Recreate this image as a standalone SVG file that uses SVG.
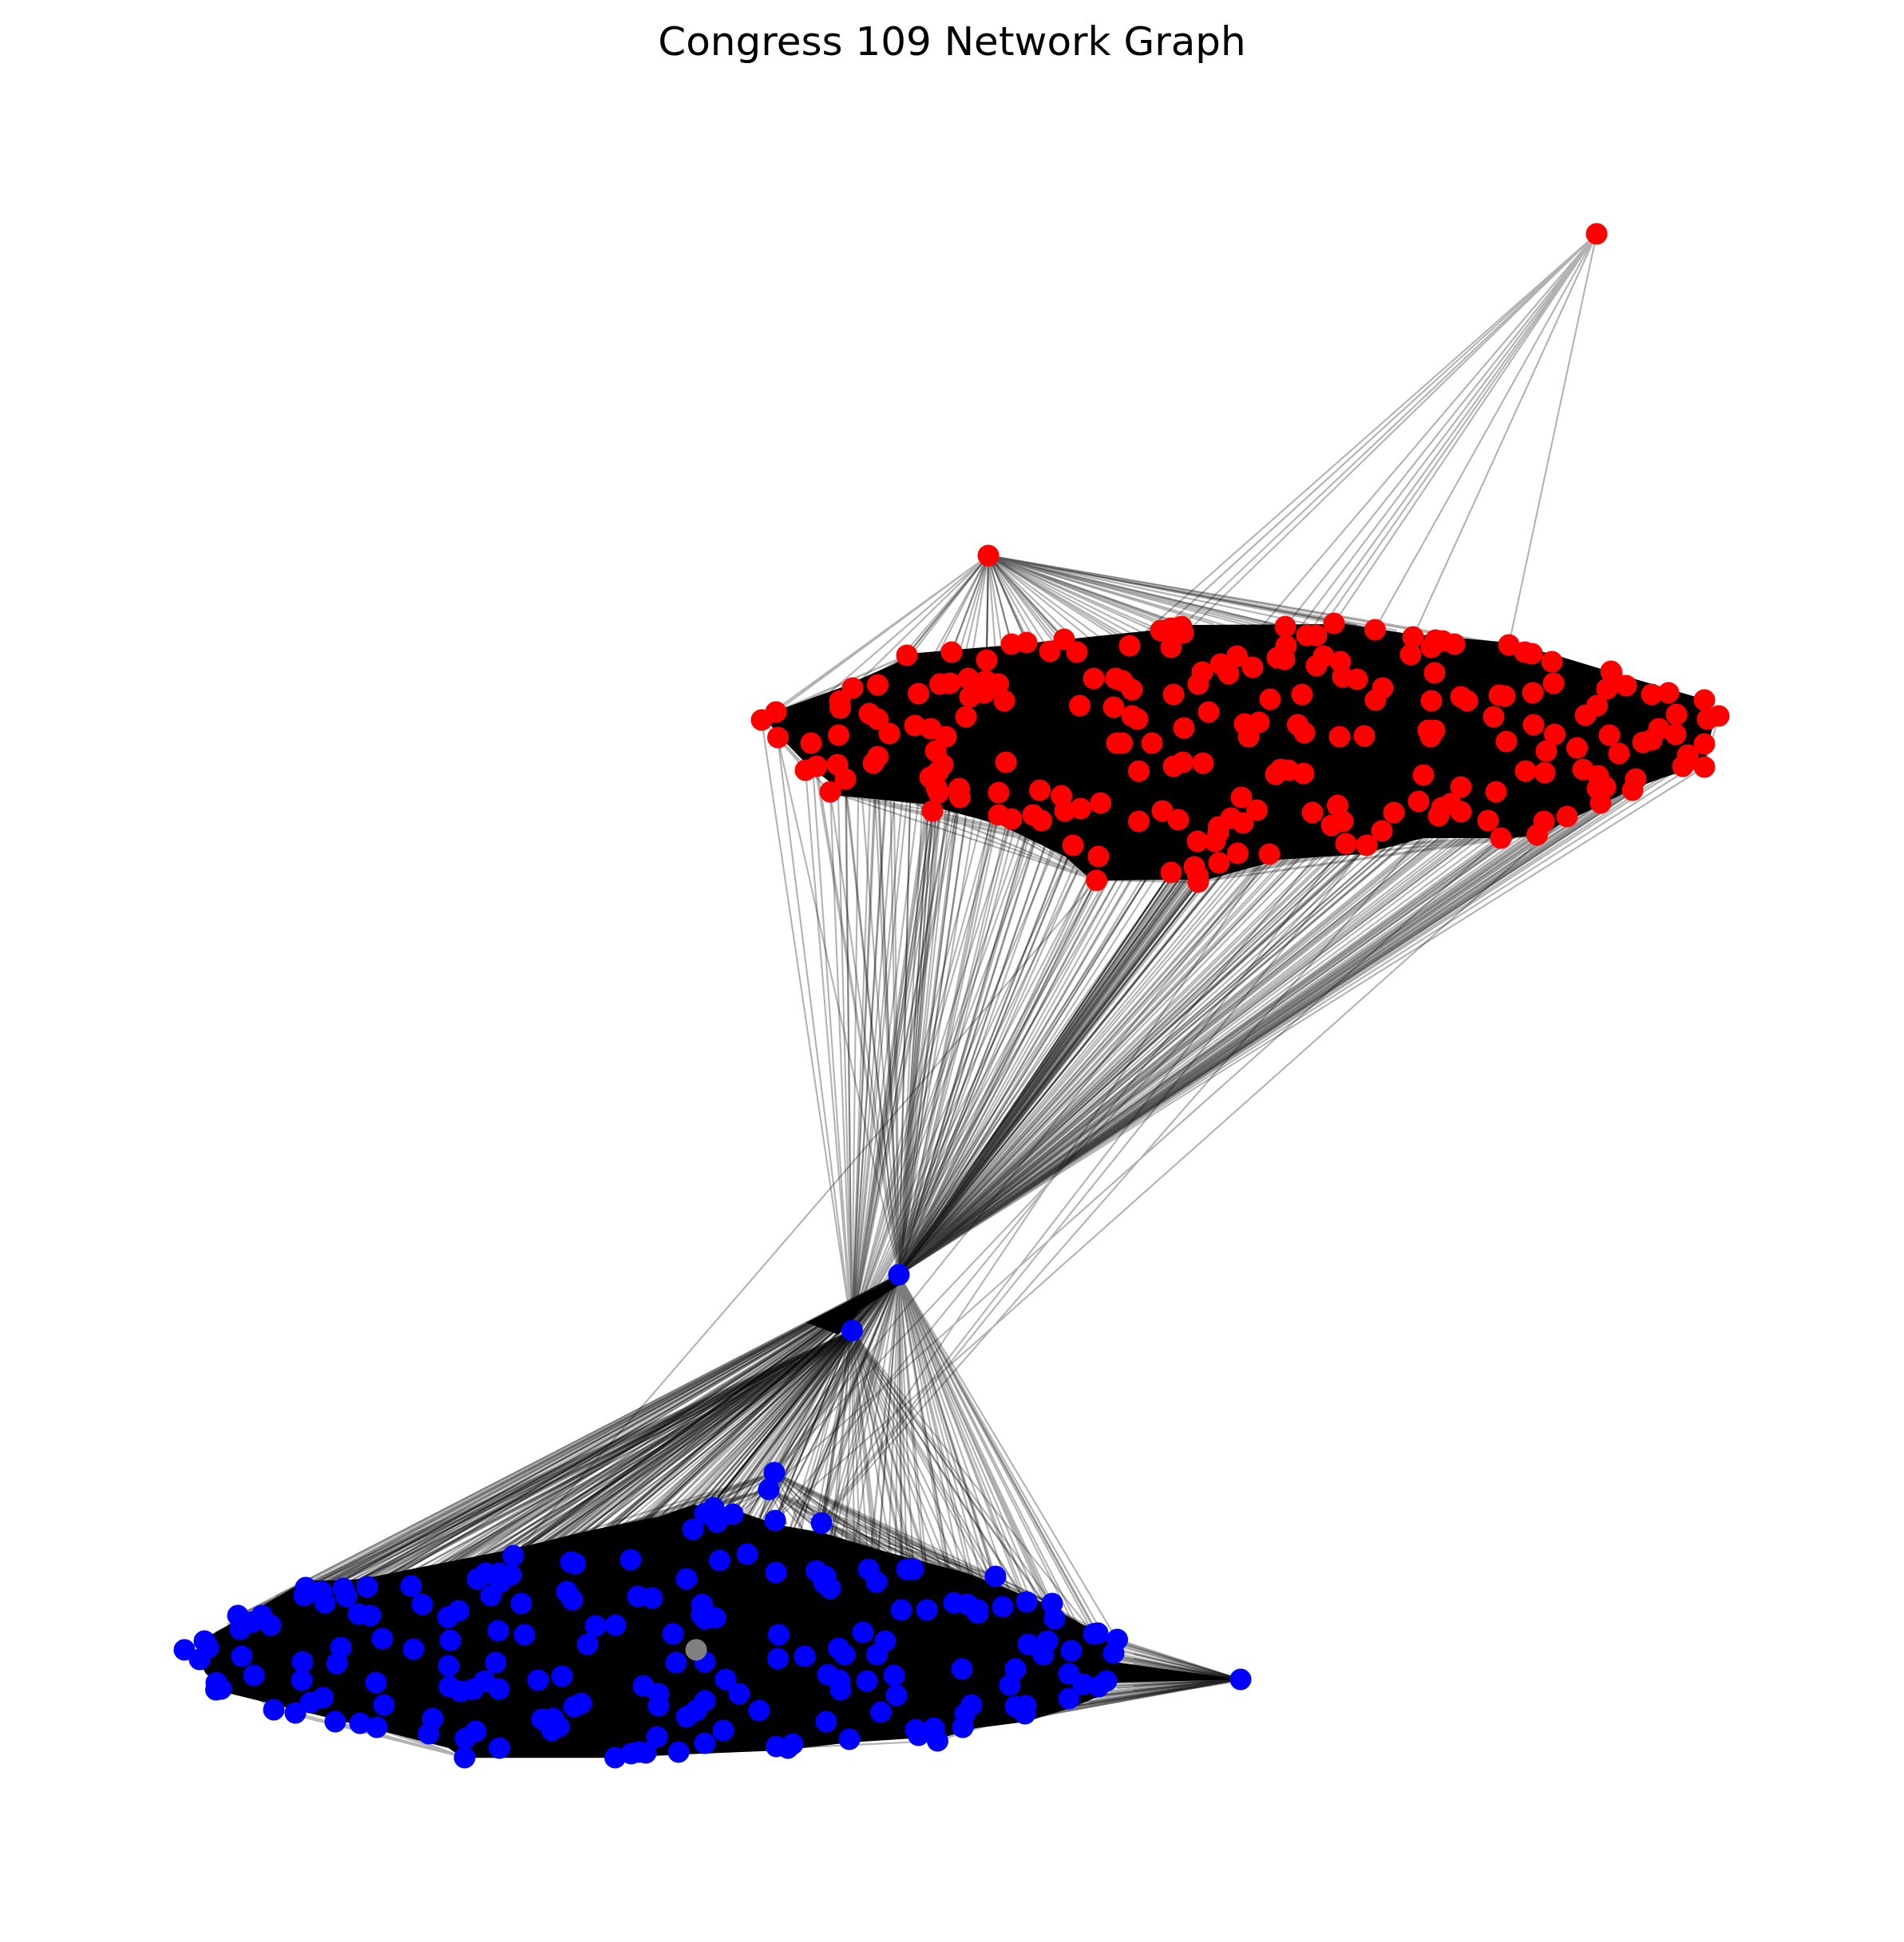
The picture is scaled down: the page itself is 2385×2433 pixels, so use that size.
<svg xmlns="http://www.w3.org/2000/svg" width="2385" height="2433" viewBox="0 0 2385 2433">
<style>
text{font-family:"DejaVu Sans",sans-serif;font-size:50px;fill:#000}
circle{r:13.5px}
.r circle{fill:#f00}
.b circle{fill:#00f}
.g circle{fill:#808080}
#edges path{fill:none;stroke:#000;stroke-width:2.1;stroke-opacity:.3}
#edges polygon{fill:#000}
</style>
<rect width="2385" height="2433" fill="#fff"/>
<text x="1192.5" y="69" text-anchor="middle">Congress 109 Network Graph</text>
<g id="edges">
<polygon points="982,887 1052,862 1124,830 1150,818 1267,808 1441,790 1492,783 1665,782 1686,782 1757,793 1890,805 1956,823 2022,843 2124,873 2145,910 2135,960 2104,967 2048,987 2002,1010 1925,1047 1885,1050 1783,1050 1706,1070 1604,1077 1512,1102 1387,1103 1362,1098 1334,1073 1252,1033 1155,1007 1053,997 1040,980 1010,957 984,930 962,905"/>
<polygon points="262,2050 383,1980 432,1980 459,1977 646,1940 736,1918 825,1900 869,1885 930,1895 973,1910 1030,1920 1106,1943 1208,1970 1305,2007 1356,2035 1402,2053 1400,2090 1385,2122 1341,2140 1285,2157 1223,2165 1188,2175 1065,2183 979,2193 851,2198 771,2202 579,2202 562,2190 472,2167 289,2122 258,2097 249,2082"/>
<polygon points="1124,1600 1010,1657 1050,1672 1079,1640 1126,1610"/>
<polygon points="1554,2104 1395,2082 1395,2108"/>
<path d="M2000 293L1415 809M2000 293L1480 785M2000 293L1454 790M2000 293L1610 785M2000 293L1637 796M2000 293L1671 781M2000 293L1722 789M2000 293L1649 796M2000 293L1770 798M2000 293L1890 808M2000 293L1549 822M2000 293L1600 824M2000 293L1467 811"/>
<path d="M1238 696L954 902M1238 696L972 892M1238 696L974 924M1238 696L1068 862M1238 696L1099 858M1238 696L1136 821M1238 696L1192 817M1238 696L1150 869M1238 696L1177 857M1238 696L1213 850M1238 696L1236 827M1238 696L1250 857M1238 696L1267 807M1238 696L1286 805M1238 696L1315 816M1238 696L1333 801M1238 696L1349 817M1238 696L1370 850"/>
<path d="M1238 696L1190 856M1238 696L1235 853M1238 696L1267 807M1238 696L1286 805M1238 696L1333 801M1238 696L1415 809M1238 696L1454 790M1238 696L1467 787M1238 696L1480 785M1238 696L1482 793M1238 696L1610 785M1238 696L1637 796M1238 696L1649 796M1238 696L1671 781M1238 696L1722 789M1238 696L1770 798M1238 696L1600 824M1238 696L1506 842"/>
<path d="M1238 696L1136 821M1238 696L1192 817M1238 696L1236 827M1238 696L1300 810M1238 696L1320 805M1238 696L1345 800M1238 696L1380 800M1238 696L1400 795M1238 696L1430 792M1238 696L1470 785M1238 696L1500 790M1238 696L1540 785M1238 696L1580 785M1238 696L1798 802M1238 696L1822 807M1238 696L1890 808"/>
<path d="M1238 696L1140 822M1238 696L1170 820M1238 696L1210 815M1238 696L1255 810M1238 696L1290 808M1238 696L1325 805M1238 696L1365 800M1238 696L1410 797M1238 696L1445 790M1238 696L1520 782M1238 696L1560 783M1238 696L1600 783M1238 696L1640 782M1238 696L1700 783M1238 696L1750 790M1238 696L1860 805"/>
<g>
<path d="M1126 1597L231 2067M1126 1597L256 2056M1126 1597L298 2024M1126 1597L328 2024M1126 1597L339 2036M1126 1597L383 1989M1126 1597L403 1994M1126 1597L430 1990M1126 1597L460 1988M1126 1597L515 1987M1126 1597L529 2010M1126 1597L561 2026M1126 1597L598 1978M1126 1597L625 1971M1126 1597L643 1949M1126 1597L715 1957M1126 1597L790 1954M1126 1597L860 1978M1126 1597L868 1916M1126 1597L883 1896"/>
<path d="M1126 1597L250 2079M1126 1597L271 2108M1126 1597L303 2075M1126 1597L343 2142M1126 1597L381 1999M1126 1597L407 2008M1126 1597L434 2000M1126 1597L449 2022M1126 1597L479 2053M1126 1597L574 2018M1126 1597L608 1971M1126 1597L640 1973M1126 1597L653 2009M1126 1597L710 1994M1126 1597L799 2000M1126 1597L746 2037M1126 1597L843 2047M1126 1597L894 1889M1126 1597L898 1907M1126 1597L936 1947"/>
<path d="M1126 1597L301 2041M1126 1597L316 2032M1126 1597L318 2099M1126 1597L370 2146M1126 1597L389 2133M1126 1597L420 2157M1126 1597L427 2064M1126 1597L464 2024M1126 1597L518 2066M1126 1597L564 2055M1126 1597L624 2043M1126 1597L657 2048M1126 1597L736 2060M1126 1597L771 2036M1126 1597L817 2002M1126 1597L879 2010M1126 1597L901 1955M1126 1597L918 1897M1126 1597L971 1905M1126 1597L972 1970"/>
<path d="M1126 1597L379 2082M1126 1597L404 2127M1126 1597L451 2159M1126 1597L471 2108M1126 1597L481 2136M1126 1597L537 2172M1126 1597L562 2087M1126 1597L582 2202M1126 1597L621 2083M1126 1597L674 2105M1126 1597L704 2100M1126 1597L728 2134M1126 1597L791 2197M1126 1597L847 2083M1126 1597L883 2082M1126 1597L883 2184M1126 1597L909 2104M1126 1597L951 2143M1126 1597L975 2048M1126 1597L1008 2075"/>
<path d="M1126 1597L1022 1968M1126 1597L1029 1908M1126 1597L1040 1990M1126 1597L1081 2045M1126 1597L1088 1966M1126 1597L1098 1982M1126 1597L1109 2056M1126 1597L1120 2099M1126 1597L1129 2017M1126 1597L1136 1966M1126 1597L1144 1966M1126 1597L1161 2017M1126 1597L1195 2008M1126 1597L1205 2091M1126 1597L1212 2010M1126 1597L1225 2021M1126 1597L1247 1975M1126 1597L1256 2013M1126 1597L1265 2111M1126 1597L1272 2091M1126 1597L1286 2007M1126 1597L1288 2060M1126 1597L1312 2056M1126 1597L1318 2009M1126 1597L1321 2028M1126 1597L1339 2097M1126 1597L1342 2068M1126 1597L1370 2047M1126 1597L1375 2046M1126 1597L1395 2071M1126 1597L1399 2054M1126 1597L1386 2106M1126 1597L1285 2137"/>
<path d="M1067 1667L231 2067M1067 1667L256 2056M1067 1667L298 2024M1067 1667L328 2024M1067 1667L383 1989M1067 1667L403 1994M1067 1667L430 1990M1067 1667L460 1988M1067 1667L515 1987M1067 1667L529 2010M1067 1667L598 1978M1067 1667L625 1971M1067 1667L643 1949M1067 1667L715 1957M1067 1667L790 1954M1067 1667L860 1978M1067 1667L868 1916M1067 1667L883 1896M1067 1667L894 1889"/>
<path d="M1067 1667L250 2079M1067 1667L301 2041M1067 1667L316 2032M1067 1667L339 2036M1067 1667L381 1999M1067 1667L407 2008M1067 1667L434 2000M1067 1667L449 2022M1067 1667L464 2024M1067 1667L561 2026M1067 1667L574 2018M1067 1667L608 1971M1067 1667L640 1973M1067 1667L653 2009M1067 1667L710 1994M1067 1667L799 2000M1067 1667L817 2002M1067 1667L898 1907M1067 1667L918 1897M1067 1667L936 1947"/>
<path d="M1067 1667L303 2075M1067 1667L343 2142M1067 1667L389 2133M1067 1667L427 2064M1067 1667L479 2053M1067 1667L518 2066M1067 1667L564 2055M1067 1667L624 2043M1067 1667L657 2048M1067 1667L736 2060M1067 1667L746 2037M1067 1667L771 2036M1067 1667L843 2047M1067 1667L879 2010M1067 1667L901 1955M1067 1667L971 1905M1067 1667L972 1970M1067 1667L1029 1908M1067 1667L1022 1968M1067 1667L1040 1990"/>
<path d="M1067 1667L970 1845M1067 1667L963 1866M1067 1667L971 1905M1067 1667L1029 1908M1067 1667L1088 1966M1067 1667L1098 1982M1067 1667L1136 1966M1067 1667L1144 1966M1067 1667L1247 1975M1067 1667L1129 2017M1067 1667L1161 2017M1067 1667L1195 2008M1067 1667L1225 2021M1067 1667L1256 2013M1067 1667L1286 2007M1067 1667L1318 2009M1067 1667L1321 2028M1067 1667L1370 2047M1067 1667L1109 2056M1067 1667L1081 2045M1067 1667L1205 2091M1067 1667L1008 2075"/>
<path d="M1126 1597L970 1845M1126 1597L963 1866M1067 1667L926 1895M1067 1667L1000 1905M1067 1667L960 1900M1067 1667L850 1915M1067 1667L820 1925M1067 1667L780 1935M1067 1667L700 1950M1067 1667L670 1960M1067 1667L570 1968M1067 1667L540 1975M1126 1597L1000 1905M1126 1597L950 1900M1126 1597L850 1915M1126 1597L780 1935M1126 1597L700 1950M1126 1597L670 1960"/>
<path d="M1126 1597L1067 1667M1126 1597L383 1989M1126 1597L403 1994M1126 1597L430 1990M1126 1597L460 1988M1126 1597L515 1987M1126 1597L598 1978M1126 1597L643 1949M1126 1597L715 1957"/>
<path d="M1126 1597L270 2045M1126 1597L290 2030M1126 1597L310 2020M1126 1597L345 2000M1126 1597L365 1992M1126 1597L395 1985M1126 1597L415 1985M1126 1597L445 1983M1126 1597L475 1980M1126 1597L495 1975M1126 1597L535 1970M1126 1597L555 1965M1126 1597L580 1960M1126 1597L600 1955M1126 1597L620 1950M1126 1597L660 1938M1126 1597L680 1933M1126 1597L730 1920M1126 1597L760 1913M1126 1597L800 1905M1126 1597L830 1897"/>
<path d="M1067 1667L265 2048M1067 1667L285 2035M1067 1667L305 2025M1067 1667L350 2003M1067 1667L370 1995M1067 1667L400 1988M1067 1667L420 1985M1067 1667L450 1982M1067 1667L480 1980M1067 1667L500 1978M1067 1667L530 1972M1067 1667L560 1965M1067 1667L585 1960M1067 1667L610 1952M1067 1667L630 1948M1067 1667L665 1938M1067 1667L690 1930M1067 1667L725 1922M1067 1667L770 1912M1067 1667L810 1903M1067 1667L840 1895"/>
<path d="M1067 1667L300 2050M1067 1667L330 2040M1067 1667L360 2030M1067 1667L400 2020M1067 1667L440 2010M1067 1667L480 2000M1067 1667L520 2000M1067 1667L560 1990M1067 1667L600 1990M1067 1667L640 1985M1067 1667L680 1975M1067 1667L720 1970M1067 1667L760 1965M1067 1667L800 1960M1067 1667L840 1950M1067 1667L880 1940M1067 1667L920 1930M1067 1667L960 1930M1067 1667L1000 1930M1067 1667L1040 1945M1067 1667L1070 1950"/>
<path d="M1126 1597L1100 1945M1126 1597L1130 1950M1126 1597L1160 1960M1126 1597L1190 1970M1126 1597L1220 1980M1126 1597L1250 1990M1126 1597L1280 2000M1126 1597L1310 2010M1126 1597L1340 2025M1126 1597L1370 2040M1126 1597L850 1900M1126 1597L900 1900M1126 1597L950 1905M1126 1597L1000 1915M1126 1597L1040 1925M1126 1597L1070 1935"/>
<path d="M1067 1667L1100 1945M1067 1667L1130 1950M1067 1667L1160 1960M1067 1667L1190 1970M1067 1667L1220 1980M1067 1667L1250 1990M1067 1667L1280 2000M1067 1667L1310 2010M1067 1667L1020 1920M1067 1667L1060 1935"/>
</g>
<g>
<path d="M1126 1597L974 924M1126 1597L1016 931M1126 1597L1023 960M1126 1597L1040 992M1126 1597L1059 976M1126 1597L1094 956M1126 1597L1099 948M1126 1597L1114 919M1126 1597L1165 974M1126 1597L1168 1016M1126 1597L1175 993M1126 1597L1181 958M1126 1597L1201 988M1126 1597L1202 999M1126 1597L1251 993M1126 1597L1251 1021M1126 1597L1267 1026M1126 1597L1294 1021M1126 1597L1305 1028M1126 1597L1260 955"/>
<path d="M1126 1597L1302 990M1126 1597L1330 997M1126 1597L1334 1016M1126 1597L1344 1059M1126 1597L1354 1013M1126 1597L1376 1073M1126 1597L1373 1103M1126 1597L1379 1006M1126 1597L1426 1029M1126 1597L1426 966M1126 1597L1456 1016M1126 1597L1476 1027M1126 1597L1467 1093M1126 1597L1496 1086M1126 1597L1500 1054M1126 1597L1501 1105M1126 1597L1522 1054M1126 1597L1527 1081M1126 1597L1550 1069M1126 1597L1590 1070"/>
<path d="M1126 1597L1598 970M1126 1597L1633 969M1126 1597L1644 1018M1126 1597L1668 1034M1126 1597L1676 1009M1126 1597L1686 1056M1126 1597L1712 1059M1126 1597L1731 1041M1126 1597L1746 1018M1126 1597L1777 1004M1126 1597L1783 971M1126 1597L1802 1022M1126 1597L1817 1007M1126 1597L1830 1017M1126 1597L1830 986M1126 1597L1864 1028M1126 1597L1874 992M1126 1597L1880 1050M1126 1597L1887 929M1126 1597L1911 966"/>
<path d="M1126 1597L1925 1046M1126 1597L1934 1029M1126 1597L1935 968M1126 1597L1937 941M1126 1597L1963 1023M1126 1597L1975 937M1126 1597L1983 964M1126 1597L2001 988M1126 1597L2002 972M1126 1597L2005 1006M1126 1597L2011 986M1126 1597L2016 921M1126 1597L2028 944M1126 1597L2045 990M1126 1597L2049 976M1126 1597L2058 930M1126 1597L2069 927M1126 1597L2078 913M1126 1597L2099 920M1126 1597L2108 960M1126 1597L2114 946M1126 1597L2135 932M1126 1597L2135 961"/>
<path d="M1126 1597L1390 1100M1126 1597L1420 1098M1126 1597L1450 1096M1126 1597L1480 1098M1126 1597L1520 1095M1126 1597L1550 1085M1126 1597L1580 1078M1126 1597L1610 1075M1126 1597L1640 1072M1126 1597L1670 1068M1126 1597L1700 1062M1126 1597L1740 1048M1126 1597L1770 1048M1126 1597L1800 1046M1126 1597L1830 1045M1126 1597L1860 1046M1126 1597L1900 1047M1126 1597L1950 1035M1126 1597L1990 1012M1126 1597L2030 995M1126 1597L2070 975"/>
<path d="M1126 1597L1420 1095M1126 1597L1440 1094M1126 1597L1535 1090M1126 1597L1560 1082M1126 1597L1595 1075M1126 1597L1625 1073M1126 1597L1655 1070M1126 1597L1685 1065M1126 1597L1715 1058M1126 1597L1750 1050M1126 1597L1785 1048M1126 1597L1815 1046M1126 1597L1845 1046M1126 1597L1880 1047M1126 1597L1915 1046M1126 1597L1935 1040M1126 1597L1970 1024M1126 1597L2010 1006M1126 1597L2050 985M1126 1597L2090 968M1126 1597L2120 960"/>
<path d="M1126 1597L1540 1085M1126 1597L1570 1078M1126 1597L1600 1075M1126 1597L1630 1072M1126 1597L1660 1070M1126 1597L1690 1065M1126 1597L1720 1055M1126 1597L1760 1048M1126 1597L1790 1047M1126 1597L1820 1045M1126 1597L1850 1046M1126 1597L1890 1047M1126 1597L1920 1047M1126 1597L1960 1028M1126 1597L2000 1010M1126 1597L2040 990M1126 1597L2080 970M1126 1597L1440 1095M1126 1597L1400 1100M1126 1597L1340 1070M1126 1597L1300 1040M1126 1597L1260 1035M1126 1597L1220 1025M1126 1597L1185 1012M1126 1597L1140 1005"/>
<path d="M1126 1597L1060 998M1126 1597L1080 1000M1126 1597L1100 1002M1126 1597L1120 1005M1126 1597L1140 1006M1126 1597L1190 1012M1126 1597L1210 1020M1126 1597L1240 1030M1126 1597L1270 1040M1126 1597L1290 1045M1126 1597L1310 1058M1126 1597L1330 1072M1126 1597L1350 1090"/>
<path d="M1126 1597L1465 1095M1126 1597L1470 1095M1126 1597L1475 1095M1126 1597L1480 1095M1126 1597L1485 1095M1126 1597L1490 1095M1126 1597L1495 1095M1126 1597L1500 1095M1126 1597L1505 1095M1126 1597L1510 1095M1126 1597L1515 1095"/>
<path d="M1126 1597L1467 1093M1126 1597L1472 1093M1126 1597L1478 1093M1126 1597L1483 1093M1126 1597L1488 1093M1126 1597L1494 1093M1126 1597L1498 1093M1126 1597L1503 1093M1126 1597L1508 1093"/>
<path d="M1126 1597L1467 1093M1126 1597L1474 1093M1126 1597L1481 1093M1126 1597L1488 1093M1126 1597L1496 1086M1126 1597L1501 1105M1126 1597L1527 1081"/>
<path d="M1126 1597L1168 1016M1126 1597L1163 1016M1126 1597L1173 1016M1126 1597L1178 1016M1126 1597L1155 1010M1126 1597L1373 1103M1126 1597L1368 1100M1126 1597L1378 1100M1126 1597L1200 1020M1126 1597L1210 1025"/>
<path d="M1067 1667L954 902M1067 1667L974 924M1067 1667L1009 965M1067 1667L1016 931M1067 1667L1040 992M1067 1667L1049 958M1067 1667L1059 976M1067 1667L1099 948M1067 1667L1114 919M1067 1667L1146 909M1067 1667L1165 974M1067 1667L1168 1016M1067 1667L1172 941M1067 1667L1175 993M1067 1667L1201 988M1067 1667L1202 999M1067 1667L1210 898M1067 1667L1251 993M1067 1667L1251 1021M1067 1667L1267 1026M1067 1667L1294 1021M1067 1667L1304 1028M1067 1667L1344 1059M1067 1667L1373 1103M1067 1667L1376 1073M1067 1667L1426 1029M1067 1667L1467 1093M1067 1667L1501 1105M1067 1667L1527 1081"/>
<path d="M1067 1667L1163 1016M1067 1667L1168 1016M1067 1667L1173 1016M1067 1667L1110 1000M1067 1667L1090 990M1067 1667L1180 1005M1067 1667L1130 1003"/>
<path d="M1067 1667L1060 998M1067 1667L1075 1000M1067 1667L1095 1002M1067 1667L1120 1004M1067 1667L1150 1007M1067 1667L1190 1012M1067 1667L1230 1025M1067 1667L1280 1040M1067 1667L1320 1065M1067 1667L1350 1090M1067 1667L1400 1100M1067 1667L1440 1095M1067 1667L1480 1098"/>
<path d="M643 1949L1373 1103M1029 1908L1590 1070M970 1845L1731 1041M963 1866L1880 1050M971 1905L1963 1023M1029 1908L1712 1059M970 1845L1590 1070M1029 1908L1780 1050M971 1905L1650 1070M1029 1908L1686 1056"/>
</g>
<g>
<path d="M1554 2104L1375 2046M1554 2104L1399 2054M1554 2104L1395 2071M1554 2104L1386 2106M1554 2104L1376 2113M1554 2104L1357 2110M1554 2104L1342 2068M1554 2104L1339 2097M1554 2104L1339 2128M1554 2104L1312 2056M1554 2104L1307 2073M1554 2104L1288 2060M1554 2104L1285 2137M1554 2104L1284 2147M1554 2104L1272 2138"/>
<path d="M1554 2104L1375 2050M1554 2104L1399 2062M1554 2104L1395 2080M1554 2104L1390 2095M1554 2104L1386 2115M1554 2104L1376 2125M1554 2104L1357 2125M1554 2104L1342 2135M1554 2104L1330 2143M1554 2104L1300 2150M1554 2104L1200 2100M1554 2104L1100 2100M1554 2104L1000 2100"/>
<path d="M1554 2104L1399 2075M1554 2104L1399 2085M1554 2104L1399 2095M1554 2104L1399 2105M1554 2104L1399 2115M1554 2104L1399 2060M1554 2104L1390 2120M1554 2104L1365 2133M1554 2104L1345 2138"/>
<path d="M1554 2104L1420 2085M1554 2104L1420 2092M1554 2104L1420 2098M1554 2104L1420 2105M1554 2104L1420 2112M1554 2104L1420 2078M1554 2104L1420 2118M1554 2104L1420 2072"/>
<path d="M1554 2104L1400 2058M1554 2104L1400 2068M1554 2104L1400 2078M1554 2104L1400 2088M1554 2104L1400 2098M1554 2104L1400 2108M1554 2104L1392 2118M1554 2104L1372 2128M1554 2104L1350 2136M1554 2104L1318 2146"/>
<path d="M1554 2104L1388 2052M1554 2104L1392 2064M1554 2104L1392 2074M1554 2104L1392 2090M1554 2104L1392 2100M1554 2104L1392 2112M1554 2104L1380 2124M1554 2104L1360 2132M1554 2104L1335 2141M1554 2104L1305 2150"/>
<path d="M970 1845L1030 1920M970 1845L1088 1966M970 1845L1136 1966M970 1845L1144 1966M970 1845L1195 2008M970 1845L1247 1975M970 1845L1286 2007M970 1845L1318 2009M970 1845L1370 2047M970 1845L1399 2054M970 1845L1100 1945M970 1845L1160 1960M970 1845L1210 1975M970 1845L1280 2000M970 1845L1340 2030M970 1845L900 1895M970 1845L860 1900M970 1845L800 1912M970 1845L740 1925M970 1845L920 1900M970 1845L950 1910M970 1845L985 1910M970 1845L1005 1915"/>
<path d="M963 1866L1030 1920M963 1866L1088 1966M963 1866L1136 1966M963 1866L1144 1966M963 1866L1195 2008M963 1866L1247 1975M963 1866L1286 2007M963 1866L1100 1945M963 1866L1160 1960M963 1866L1210 1975M963 1866L1260 1992M963 1866L1318 2009M963 1866L900 1895M963 1866L860 1900M963 1866L800 1912M963 1866L740 1925M963 1866L920 1900M963 1866L950 1910M963 1866L985 1910M963 1866L1005 1915M963 1866L1065 1940M963 1866L1120 1960"/>
<path d="M970 1845L880 1890M970 1845L840 1905M970 1845L820 1905M970 1845L780 1915M970 1845L760 1920M970 1845L720 1930M970 1845L700 1928M970 1845L1060 1935M970 1845L1120 1950M970 1845L1180 1965M970 1845L1230 1985M970 1845L1260 1995M970 1845L1300 2010"/>
<path d="M963 1866L880 1890M963 1866L840 1905M963 1866L820 1905M963 1866L780 1915M963 1866L760 1920M963 1866L720 1930M963 1866L700 1928M963 1866L1050 1935M963 1866L1110 1950M963 1866L1170 1965"/>
<path d="M1029 1908L1088 1966M1029 1908L1136 1966M1029 1908L1195 2008M1029 1908L1247 1975M1029 1908L1286 2007M1029 1908L1160 1955M1029 1908L1210 1975M1029 1908L1318 2009M1029 1908L1100 1945M1247 1975L1195 2008M1247 1975L1286 2007M1247 1975L1225 2010M1247 1975L1256 2013M1247 1975L1318 2009M1318 2009L1370 2047M1286 2007L1370 2047M1225 2017L1370 2047"/>
<path d="M582 2202L343 2142M582 2202L370 2146M582 2202L420 2157M582 2202L451 2159M582 2202L472 2164M582 2202L537 2172M582 2202L542 2153M582 2202L583 2178M582 2202L596 2169M582 2202L625 2190M582 2202L771 2202M582 2202L790 2197M582 2202L850 2195M582 2202L1064 2179M582 2202L493 2170M582 2202L510 2175M770 2202L650 2195M770 2202L700 2190M770 2202L1000 2190M850 2195L1147 2167M987 2190L1174 2181M987 2190L1206 2164M1174 2181L1285 2147M1206 2164L1339 2128M1284 2147L1540 2108M231 2067L343 2142M250 2079L343 2142M250 2079L472 2164M271 2108L537 2172M343 2142L582 2202"/>
<path d="M1373 1103L1040 992M1373 1103L1168 1016M1373 1103L1201 999M1373 1103L1251 1021M1373 1103L1267 1026M1373 1103L1294 1021M1373 1103L1304 1028M1373 1103L1334 1016M1373 1103L1344 1059M1373 1103L1100 1000M1373 1103L1140 1005M1373 1103L1210 1015M1373 1103L1230 1025M1373 1103L1320 1050M1373 1103L1501 1105M1040 992L1168 1016M1040 992L1251 1021M1040 992L1304 1028M1040 992L1344 1059M1040 992L1467 1093M1040 992L1501 1105M1168 1016L1251 1021M1168 1016L1344 1059M1168 1016L1467 1093M1168 1016L1501 1105M1168 1016L1373 1103M1168 1016L1376 1073"/>
<path d="M1501 1105L1590 1070M1501 1105L1712 1059M1501 1105L1731 1041M1501 1105L1880 1050M1501 1105L1925 1046M1501 1105L2005 1006M1501 1105L2045 990M1501 1105L2108 960M1501 1105L2135 961M1467 1093L1590 1070M1467 1093L1712 1059M1467 1093L1880 1050M1467 1093L1925 1046M1467 1093L2005 1006M1467 1093L2108 960M1373 1103L1590 1070M1373 1103L1712 1059M1373 1103L1880 1050M1373 1103L1925 1046M1712 1059L1880 1050M1712 1059L1925 1046M1712 1059L2045 990M1712 1059L2108 960M1590 1070L1880 1050M1590 1070L2005 1006"/>
<path d="M972 892L1136 821M954 902L1136 821M972 892L1068 862M972 892L1099 858M974 924L1040 992M974 924L1009 965M974 924L1059 976M974 924L1168 1016M954 902L1040 992M1136 821L1052 878M1136 821L1068 862M1136 821L1099 858M1136 821L1052 887M1136 821L1089 894M1136 821L1050 921M2135 877L2135 961M2153 897L2135 932M2153 897L2135 961M2153 897L2108 960M2139 901L2108 960M2139 901L2114 946M2153 897L2099 920"/>
</g>
</g>
<g id="nodes">
<g class="r">
<g id="r1"><circle cx="2000" cy="293"/></g><g id="r2"><circle cx="1238" cy="696"/></g>
<g id="r3"><circle cx="954" cy="902"/></g><g id="r4"><circle cx="972" cy="892"/></g><g id="r5"><circle cx="974.5" cy="924"/></g><g id="r6"><circle cx="1016" cy="931"/></g><g id="r7"><circle cx="1009" cy="965"/></g><g id="r8"><circle cx="1023" cy="960"/></g><g id="r9"><circle cx="1049" cy="958"/></g><g id="r10"><circle cx="1059" cy="976"/></g>
<g id="r11"><circle cx="1040" cy="992"/></g><g id="r12"><circle cx="1050.5" cy="921"/></g><g id="r13"><circle cx="1052.5" cy="887"/></g><g id="r14"><circle cx="1052" cy="878"/></g><g id="r15"><circle cx="1068" cy="862"/></g><g id="r16"><circle cx="1099.5" cy="858"/></g><g id="r17"><circle cx="1089" cy="894"/></g><g id="r18"><circle cx="1099.5" cy="901"/></g><g id="r19"><circle cx="1114" cy="919"/></g><g id="r20"><circle cx="1099.5" cy="948"/></g>
<g id="r21"><circle cx="1094" cy="956"/></g><g id="r22"><circle cx="1136" cy="821"/></g><g id="r23"><circle cx="1192" cy="817"/></g><g id="r24"><circle cx="1236" cy="827"/></g><g id="r25"><circle cx="1267" cy="807"/></g><g id="r26"><circle cx="1286" cy="805"/></g><g id="r27"><circle cx="1315" cy="816"/></g><g id="r28"><circle cx="1333" cy="801"/></g><g id="r29"><circle cx="1349" cy="817"/></g><g id="r30"><circle cx="1415" cy="809"/></g>
<g id="r31"><circle cx="1454" cy="790"/></g><g id="r32"><circle cx="1467" cy="787"/></g><g id="r33"><circle cx="1480" cy="785"/></g><g id="r34"><circle cx="1482" cy="793"/></g><g id="r35"><circle cx="1467" cy="811"/></g><g id="r36"><circle cx="1610" cy="785"/></g><g id="r37"><circle cx="1637" cy="796"/></g><g id="r38"><circle cx="1649" cy="796"/></g><g id="r39"><circle cx="1671" cy="781"/></g><g id="r40"><circle cx="1611" cy="809"/></g>
<g id="r41"><circle cx="1600" cy="824"/></g><g id="r42"><circle cx="1609" cy="826"/></g><g id="r43"><circle cx="1649" cy="834"/></g><g id="r44"><circle cx="1658" cy="822"/></g><g id="r45"><circle cx="1679" cy="829"/></g><g id="r46"><circle cx="1682" cy="848"/></g><g id="r47"><circle cx="1700" cy="851"/></g><g id="r48"><circle cx="1150.5" cy="869"/></g><g id="r49"><circle cx="1177.5" cy="857"/></g><g id="r50"><circle cx="1190" cy="856"/></g>
<g id="r51"><circle cx="1213" cy="850"/></g><g id="r52"><circle cx="1235" cy="853"/></g><g id="r53"><circle cx="1250.5" cy="857"/></g><g id="r54"><circle cx="1215" cy="873"/></g><g id="r55"><circle cx="1233" cy="868"/></g><g id="r56"><circle cx="1258" cy="878"/></g><g id="r57"><circle cx="1210" cy="898"/></g><g id="r58"><circle cx="1146" cy="909"/></g><g id="r59"><circle cx="1166" cy="913"/></g><g id="r60"><circle cx="1185" cy="923"/></g>
<g id="r61"><circle cx="1172" cy="941"/></g><g id="r62"><circle cx="1181" cy="958"/></g><g id="r63"><circle cx="1175" cy="967"/></g><g id="r64"><circle cx="1165" cy="974"/></g><g id="r65"><circle cx="1173" cy="987"/></g><g id="r66"><circle cx="1175.5" cy="993"/></g><g id="r67"><circle cx="1201.5" cy="988"/></g><g id="r68"><circle cx="1202.5" cy="999"/></g><g id="r69"><circle cx="1168" cy="1016"/></g><g id="r70"><circle cx="1260" cy="955"/></g>
<g id="r71"><circle cx="1251" cy="993"/></g><g id="r72"><circle cx="1302.5" cy="990"/></g><g id="r73"><circle cx="1329.6" cy="997"/></g><g id="r74"><circle cx="1334" cy="1016"/></g><g id="r75"><circle cx="1353.6" cy="1013"/></g><g id="r76"><circle cx="1378.6" cy="1006"/></g><g id="r77"><circle cx="1251" cy="1021"/></g><g id="r78"><circle cx="1267" cy="1026"/></g><g id="r79"><circle cx="1294" cy="1021"/></g><g id="r80"><circle cx="1304.6" cy="1028"/></g>
<g id="r81"><circle cx="1344" cy="1059"/></g><g id="r82"><circle cx="1376" cy="1073"/></g><g id="r83"><circle cx="1373.5" cy="1103"/></g><g id="r84"><circle cx="1370" cy="850"/></g><g id="r85"><circle cx="1397.5" cy="850"/></g><g id="r86"><circle cx="1406" cy="853"/></g><g id="r87"><circle cx="1418" cy="864"/></g><g id="r88"><circle cx="1352.5" cy="884"/></g><g id="r89"><circle cx="1395" cy="886"/></g><g id="r90"><circle cx="1418" cy="897"/></g>
<g id="r91"><circle cx="1425" cy="901"/></g><g id="r92"><circle cx="1399" cy="931"/></g><g id="r93"><circle cx="1405.6" cy="931"/></g><g id="r94"><circle cx="1443" cy="931"/></g><g id="r95"><circle cx="1426.5" cy="966"/></g><g id="r96"><circle cx="1470" cy="960"/></g><g id="r97"><circle cx="1481.6" cy="955"/></g><g id="r98"><circle cx="1507" cy="956"/></g><g id="r99"><circle cx="1483" cy="912"/></g><g id="r100"><circle cx="1514" cy="892"/></g>
<g id="r101"><circle cx="1470" cy="870"/></g><g id="r102"><circle cx="1501" cy="857"/></g><g id="r103"><circle cx="1506" cy="842"/></g><g id="r104"><circle cx="1529" cy="832"/></g><g id="r105"><circle cx="1549.5" cy="822"/></g><g id="r106"><circle cx="1539" cy="844"/></g><g id="r107"><circle cx="1569" cy="836"/></g><g id="r108"><circle cx="1591" cy="876"/></g><g id="r109"><circle cx="1631" cy="870"/></g><g id="r110"><circle cx="1559" cy="907"/></g>
<g id="r111"><circle cx="1577" cy="905"/></g><g id="r112"><circle cx="1564" cy="923"/></g><g id="r113"><circle cx="1625.5" cy="908"/></g><g id="r114"><circle cx="1634" cy="918"/></g><g id="r115"><circle cx="1678" cy="923"/></g><g id="r116"><circle cx="1598" cy="970"/></g><g id="r117"><circle cx="1604" cy="964"/></g><g id="r118"><circle cx="1614" cy="965"/></g><g id="r119"><circle cx="1633" cy="969"/></g><g id="r120"><circle cx="1555" cy="999"/></g>
<g id="r121"><circle cx="1574.5" cy="1015"/></g><g id="r122"><circle cx="1542" cy="1025"/></g><g id="r123"><circle cx="1557" cy="1031"/></g><g id="r124"><circle cx="1526.5" cy="1036"/></g><g id="r125"><circle cx="1526" cy="1043"/></g><g id="r126"><circle cx="1500" cy="1054"/></g><g id="r127"><circle cx="1522" cy="1054"/></g><g id="r128"><circle cx="1550.5" cy="1069"/></g><g id="r129"><circle cx="1590" cy="1070"/></g><g id="r130"><circle cx="1527" cy="1081"/></g>
<g id="r131"><circle cx="1496" cy="1086"/></g><g id="r132"><circle cx="1500.5" cy="1097"/></g><g id="r133"><circle cx="1501" cy="1105"/></g><g id="r134"><circle cx="1467" cy="1093"/></g><g id="r135"><circle cx="1456" cy="1016"/></g><g id="r136"><circle cx="1476" cy="1027"/></g><g id="r137"><circle cx="1426.5" cy="1029"/></g><g id="r138"><circle cx="1644" cy="1018"/></g><g id="r139"><circle cx="1675.5" cy="1009"/></g><g id="r140"><circle cx="1668" cy="1034"/></g>
<g id="r141"><circle cx="1682" cy="1029"/></g><g id="r142"><circle cx="1686" cy="1057"/></g><g id="r143"><circle cx="1722.5" cy="789"/></g><g id="r144"><circle cx="1770" cy="798"/></g><g id="r145"><circle cx="1767" cy="820"/></g><g id="r146"><circle cx="1798" cy="802"/></g><g id="r147"><circle cx="1793" cy="811"/></g><g id="r148"><circle cx="1807" cy="803"/></g><g id="r149"><circle cx="1822" cy="807"/></g><g id="r150"><circle cx="1890" cy="808"/></g>
<g id="r151"><circle cx="1910" cy="817"/></g><g id="r152"><circle cx="1919" cy="819"/></g><g id="r153"><circle cx="1944" cy="829"/></g><g id="r154"><circle cx="2018" cy="841"/></g><g id="r155"><circle cx="2019" cy="843"/></g><g id="r156"><circle cx="2037" cy="859"/></g><g id="r157"><circle cx="2013" cy="863"/></g><g id="r158"><circle cx="1946" cy="856"/></g><g id="r159"><circle cx="1920" cy="868"/></g><g id="r160"><circle cx="1878" cy="871"/></g>
<g id="r161"><circle cx="1885" cy="872"/></g><g id="r162"><circle cx="1830" cy="873"/></g><g id="r163"><circle cx="1838" cy="878"/></g><g id="r164"><circle cx="1797" cy="843"/></g><g id="r165"><circle cx="1793" cy="878"/></g><g id="r166"><circle cx="1732" cy="862"/></g><g id="r167"><circle cx="1723" cy="877"/></g><g id="r168"><circle cx="2000.5" cy="884"/></g><g id="r169"><circle cx="1986" cy="896"/></g><g id="r170"><circle cx="2069" cy="870"/></g>
<g id="r171"><circle cx="2090" cy="868"/></g><g id="r172"><circle cx="2100" cy="895"/></g><g id="r173"><circle cx="2135" cy="877"/></g><g id="r174"><circle cx="2153" cy="897"/></g><g id="r175"><circle cx="2139" cy="901"/></g><g id="r176"><circle cx="2135" cy="932"/></g><g id="r177"><circle cx="2114" cy="946"/></g><g id="r178"><circle cx="2135" cy="961"/></g><g id="r179"><circle cx="2108" cy="960"/></g><g id="r180"><circle cx="2078" cy="913"/></g>
<g id="r181"><circle cx="2099" cy="920"/></g><g id="r182"><circle cx="2069" cy="927"/></g><g id="r183"><circle cx="2058" cy="930"/></g><g id="r184"><circle cx="2028" cy="944"/></g><g id="r185"><circle cx="2016" cy="921"/></g><g id="r186"><circle cx="1975.5" cy="937"/></g><g id="r187"><circle cx="1947.5" cy="920"/></g><g id="r188"><circle cx="1937" cy="941"/></g><g id="r189"><circle cx="1921" cy="908"/></g><g id="r190"><circle cx="1887" cy="929"/></g>
<g id="r191"><circle cx="1871" cy="898"/></g><g id="r192"><circle cx="1797" cy="915"/></g><g id="r193"><circle cx="1789" cy="915"/></g><g id="r194"><circle cx="1792" cy="923"/></g><g id="r195"><circle cx="1709" cy="922"/></g><g id="r196"><circle cx="1783" cy="971"/></g><g id="r197"><circle cx="1830" cy="986"/></g><g id="r198"><circle cx="1874" cy="992"/></g><g id="r199"><circle cx="1911" cy="966"/></g><g id="r200"><circle cx="1935" cy="968"/></g>
<g id="r201"><circle cx="1983" cy="964"/></g><g id="r202"><circle cx="2002" cy="972"/></g><g id="r203"><circle cx="2011" cy="986"/></g><g id="r204"><circle cx="2001" cy="988"/></g><g id="r205"><circle cx="2005" cy="1006"/></g><g id="r206"><circle cx="2049" cy="976"/></g><g id="r207"><circle cx="2045" cy="990"/></g><g id="r208"><circle cx="1963" cy="1023"/></g><g id="r209"><circle cx="1934" cy="1029"/></g><g id="r210"><circle cx="1925.5" cy="1046"/></g>
<g id="r211"><circle cx="1864" cy="1028"/></g><g id="r212"><circle cx="1880" cy="1050"/></g><g id="r213"><circle cx="1830" cy="1017"/></g><g id="r214"><circle cx="1817" cy="1007"/></g><g id="r215"><circle cx="1806" cy="1012"/></g><g id="r216"><circle cx="1802" cy="1022"/></g><g id="r217"><circle cx="1777" cy="1004"/></g><g id="r218"><circle cx="1746" cy="1018"/></g><g id="r219"><circle cx="1731" cy="1041"/></g><g id="r220"><circle cx="1712" cy="1059"/></g>
</g>
<g class="b">
<g id="b1"><circle cx="1126" cy="1597"/></g><g id="b2"><circle cx="1067.4" cy="1667"/></g><g id="b3"><circle cx="1554" cy="2104"/></g>
<g id="b4"><circle cx="231" cy="2067"/></g><g id="b5"><circle cx="256" cy="2056"/></g><g id="b6"><circle cx="261" cy="2064"/></g><g id="b7"><circle cx="250" cy="2079"/></g><g id="b8"><circle cx="271" cy="2108"/></g><g id="b9"><circle cx="277" cy="2116"/></g><g id="b10"><circle cx="270.5" cy="2117"/></g>
<g id="b11"><circle cx="298" cy="2024"/></g><g id="b12"><circle cx="301" cy="2041"/></g><g id="b13"><circle cx="316" cy="2032"/></g><g id="b14"><circle cx="328" cy="2024"/></g><g id="b15"><circle cx="339" cy="2036"/></g><g id="b16"><circle cx="303" cy="2075"/></g><g id="b17"><circle cx="318" cy="2099"/></g><g id="b18"><circle cx="343" cy="2142"/></g><g id="b19"><circle cx="370" cy="2146"/></g><g id="b20"><circle cx="389" cy="2133"/></g>
<g id="b21"><circle cx="404.5" cy="2127"/></g><g id="b22"><circle cx="420" cy="2157"/></g><g id="b23"><circle cx="451" cy="2159"/></g><g id="b24"><circle cx="472" cy="2164"/></g><g id="b25"><circle cx="537" cy="2172"/></g><g id="b26"><circle cx="542" cy="2153"/></g><g id="b27"><circle cx="583" cy="2178"/></g><g id="b28"><circle cx="596" cy="2169"/></g><g id="b29"><circle cx="625.5" cy="2190"/></g><g id="b30"><circle cx="582" cy="2202"/></g>
<g id="b31"><circle cx="383" cy="1989"/></g><g id="b32"><circle cx="381" cy="1999"/></g><g id="b33"><circle cx="403" cy="1994"/></g><g id="b34"><circle cx="407" cy="2008"/></g><g id="b35"><circle cx="430" cy="1990"/></g><g id="b36"><circle cx="434" cy="2000"/></g><g id="b37"><circle cx="460" cy="1988"/></g><g id="b38"><circle cx="449" cy="2022"/></g><g id="b39"><circle cx="464" cy="2024"/></g><g id="b40"><circle cx="515" cy="1987"/></g>
<g id="b41"><circle cx="529" cy="2010"/></g><g id="b42"><circle cx="561" cy="2026"/></g><g id="b43"><circle cx="574.5" cy="2018"/></g><g id="b44"><circle cx="598" cy="1978"/></g><g id="b45"><circle cx="608.5" cy="1971"/></g><g id="b46"><circle cx="625.5" cy="1971"/></g><g id="b47"><circle cx="640" cy="1973"/></g><g id="b48"><circle cx="627" cy="1982"/></g><g id="b49"><circle cx="615" cy="1999"/></g><g id="b50"><circle cx="643" cy="1949"/></g>
<g id="b51"><circle cx="653" cy="2009"/></g><g id="b52"><circle cx="624" cy="2043"/></g><g id="b53"><circle cx="657" cy="2048"/></g><g id="b54"><circle cx="564" cy="2055"/></g><g id="b55"><circle cx="479" cy="2053"/></g><g id="b56"><circle cx="518" cy="2066"/></g><g id="b57"><circle cx="427" cy="2064"/></g><g id="b58"><circle cx="422" cy="2084"/></g><g id="b59"><circle cx="379" cy="2082"/></g><g id="b60"><circle cx="378" cy="2105"/></g>
<g id="b61"><circle cx="471" cy="2108"/></g><g id="b62"><circle cx="481" cy="2136"/></g><g id="b63"><circle cx="562" cy="2087"/></g><g id="b64"><circle cx="621" cy="2083"/></g><g id="b65"><circle cx="607" cy="2106"/></g><g id="b66"><circle cx="563" cy="2113"/></g><g id="b67"><circle cx="577" cy="2119"/></g><g id="b68"><circle cx="593" cy="2116"/></g><g id="b69"><circle cx="625" cy="2116"/></g><g id="b70"><circle cx="674" cy="2105"/></g>
<g id="b71"><circle cx="704" cy="2100"/></g><g id="b72"><circle cx="728" cy="2134"/></g><g id="b73"><circle cx="719" cy="2138"/></g><g id="b74"><circle cx="679" cy="2154"/></g><g id="b75"><circle cx="693" cy="2153"/></g><g id="b76"><circle cx="700" cy="2163"/></g><g id="b77"><circle cx="691.5" cy="2168"/></g><g id="b78"><circle cx="715" cy="1957"/></g><g id="b79"><circle cx="720.5" cy="1959"/></g><g id="b80"><circle cx="790" cy="1954"/></g>
<g id="b81"><circle cx="710" cy="1994"/></g><g id="b82"><circle cx="717" cy="2004"/></g><g id="b83"><circle cx="860" cy="1978"/></g><g id="b84"><circle cx="799" cy="2000"/></g><g id="b85"><circle cx="817" cy="2002"/></g><g id="b86"><circle cx="746" cy="2037"/></g><g id="b87"><circle cx="771" cy="2036"/></g><g id="b88"><circle cx="736" cy="2060"/></g><g id="b89"><circle cx="843" cy="2047"/></g><g id="b90"><circle cx="847" cy="2083"/></g>
<g id="b91"><circle cx="883" cy="2082"/></g><g id="b92"><circle cx="879.5" cy="2010"/></g><g id="b93"><circle cx="878.6" cy="2023"/></g><g id="b94"><circle cx="883" cy="2028"/></g><g id="b95"><circle cx="896" cy="2027"/></g><g id="b96"><circle cx="868" cy="1916"/></g><g id="b97"><circle cx="883" cy="1896"/></g><g id="b98"><circle cx="894" cy="1889"/></g><g id="b99"><circle cx="898" cy="1907"/></g><g id="b100"><circle cx="901.5" cy="1955"/></g>
<g id="b101"><circle cx="806" cy="2112"/></g><g id="b102"><circle cx="825" cy="2122"/></g><g id="b103"><circle cx="825" cy="2137"/></g><g id="b104"><circle cx="883" cy="2131"/></g><g id="b105"><circle cx="872" cy="2143"/></g><g id="b106"><circle cx="860" cy="2151"/></g><g id="b107"><circle cx="823" cy="2176"/></g><g id="b108"><circle cx="883" cy="2184"/></g><g id="b109"><circle cx="850" cy="2195"/></g><g id="b110"><circle cx="770.5" cy="2202"/></g>
<g id="b111"><circle cx="790.6" cy="2197"/></g><g id="b112"><circle cx="800" cy="2195"/></g><g id="b113"><circle cx="809" cy="2196"/></g><g id="b114"><circle cx="970" cy="1845"/></g><g id="b115"><circle cx="963" cy="1866"/></g><g id="b116"><circle cx="971" cy="1905"/></g><g id="b117"><circle cx="1029" cy="1908"/></g><g id="b118"><circle cx="918" cy="1897"/></g><g id="b119"><circle cx="936" cy="1947"/></g><g id="b120"><circle cx="972" cy="1970"/></g>
<g id="b121"><circle cx="1022.5" cy="1968"/></g><g id="b122"><circle cx="1034" cy="1975"/></g><g id="b123"><circle cx="1032" cy="1983"/></g><g id="b124"><circle cx="1040" cy="1990"/></g><g id="b125"><circle cx="1088" cy="1966"/></g><g id="b126"><circle cx="1098" cy="1982"/></g><g id="b127"><circle cx="1136" cy="1966"/></g><g id="b128"><circle cx="1144" cy="1966"/></g><g id="b129"><circle cx="1247" cy="1975"/></g><g id="b130"><circle cx="1129" cy="2017"/></g>
<g id="b131"><circle cx="1161" cy="2017"/></g><g id="b132"><circle cx="1195" cy="2008"/></g><g id="b133"><circle cx="1212" cy="2010"/></g><g id="b134"><circle cx="1225" cy="2017"/></g><g id="b135"><circle cx="1225" cy="2021"/></g><g id="b136"><circle cx="1256" cy="2013"/></g><g id="b137"><circle cx="1286" cy="2007"/></g><g id="b138"><circle cx="1318" cy="2009"/></g><g id="b139"><circle cx="1321" cy="2028"/></g><g id="b140"><circle cx="1370" cy="2047"/></g>
<g id="b141"><circle cx="1375" cy="2046"/></g><g id="b142"><circle cx="1399.5" cy="2054"/></g><g id="b143"><circle cx="1395" cy="2071"/></g><g id="b144"><circle cx="1288" cy="2060"/></g><g id="b145"><circle cx="1312" cy="2056"/></g><g id="b146"><circle cx="1307" cy="2073"/></g><g id="b147"><circle cx="1342" cy="2068"/></g><g id="b148"><circle cx="1339" cy="2097"/></g><g id="b149"><circle cx="1357" cy="2110"/></g><g id="b150"><circle cx="1376.5" cy="2113"/></g>
<g id="b151"><circle cx="1386" cy="2106"/></g><g id="b152"><circle cx="1339" cy="2128"/></g><g id="b153"><circle cx="1272" cy="2091"/></g><g id="b154"><circle cx="1265" cy="2111"/></g><g id="b155"><circle cx="1205" cy="2091"/></g><g id="b156"><circle cx="1272" cy="2138"/></g><g id="b157"><circle cx="1285" cy="2137"/></g><g id="b158"><circle cx="1284" cy="2147"/></g><g id="b159"><circle cx="1217" cy="2136"/></g><g id="b160"><circle cx="1209" cy="2147"/></g>
<g id="b161"><circle cx="1206" cy="2164"/></g><g id="b162"><circle cx="1147" cy="2167"/></g><g id="b163"><circle cx="1150.5" cy="2174"/></g><g id="b164"><circle cx="1170" cy="2165"/></g><g id="b165"><circle cx="1174.5" cy="2181"/></g><g id="b166"><circle cx="1064" cy="2179"/></g><g id="b167"><circle cx="1035" cy="2157"/></g><g id="b168"><circle cx="1103.5" cy="2145"/></g><g id="b169"><circle cx="1123" cy="2124"/></g><g id="b170"><circle cx="1120" cy="2099"/></g>
<g id="b171"><circle cx="1086" cy="2106"/></g><g id="b172"><circle cx="1053" cy="2117"/></g><g id="b173"><circle cx="1051.5" cy="2105"/></g><g id="b174"><circle cx="1037" cy="2098"/></g><g id="b175"><circle cx="1098.5" cy="2073"/></g><g id="b176"><circle cx="1109" cy="2056"/></g><g id="b177"><circle cx="1081" cy="2045"/></g><g id="b178"><circle cx="1050.5" cy="2065"/></g><g id="b179"><circle cx="1058" cy="2073"/></g><g id="b180"><circle cx="1008" cy="2075"/></g>
<g id="b181"><circle cx="974.5" cy="2078"/></g><g id="b182"><circle cx="975.5" cy="2048"/></g><g id="b183"><circle cx="909" cy="2104"/></g><g id="b184"><circle cx="926" cy="2122"/></g><g id="b185"><circle cx="951" cy="2143"/></g><g id="b186"><circle cx="906" cy="2168"/></g><g id="b187"><circle cx="972.5" cy="2188"/></g><g id="b188"><circle cx="993" cy="2185"/></g><g id="b189"><circle cx="987" cy="2190"/></g>
</g>
<g class="g"><g id="g1"><circle cx="872" cy="2067"/></g></g>
</g>
</svg>
